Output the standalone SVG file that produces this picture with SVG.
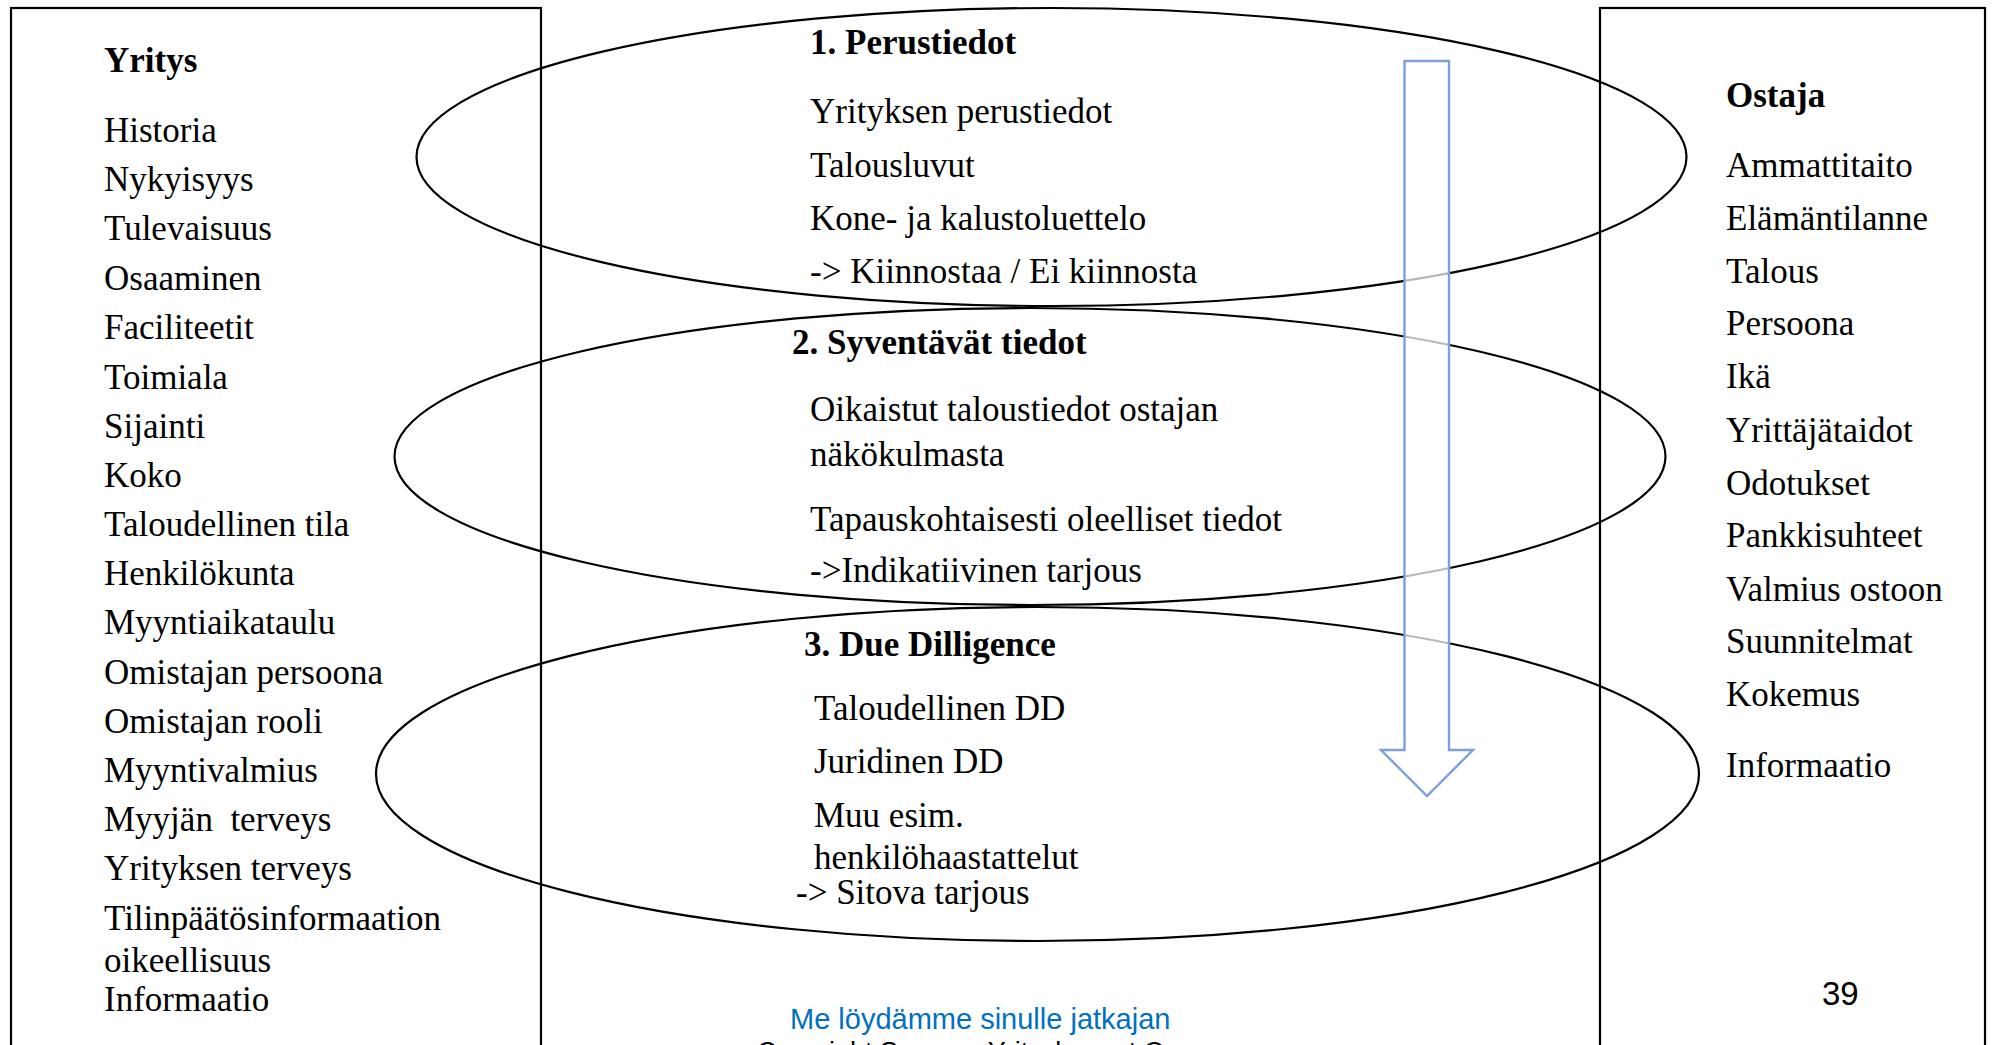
<svg xmlns="http://www.w3.org/2000/svg" width="1993" height="1045" viewBox="0 0 1993 1045">
<style>
  .box{fill:none;stroke:#000;stroke-width:2.2}
  .stage{fill:none;stroke:#000;stroke-width:2.2}
  .t{font-family:"Liberation Serif","Times New Roman",serif;font-size:35px;fill:#000}
  .b{font-weight:bold}
  .s{font-family:"Liberation Sans",Arial,sans-serif;fill:#000}
  .arrow{fill:#fff;fill-opacity:0.72;stroke:#7F9FDA;stroke-width:2.4}
</style>
<rect width="1993" height="1045" fill="#fff"/>

<g id="yritys">
  <rect class="box" x="11" y="8" width="530" height="1060"/>
  <text class="t b" x="104" y="72">Yritys</text>
  <text class="t" x="104" y="142">Historia</text>
  <text class="t" x="104" y="191">Nykyisyys</text>
  <text class="t" x="104" y="240">Tulevaisuus</text>
  <text class="t" x="104" y="290">Osaaminen</text>
  <text class="t" x="104" y="339">Faciliteetit</text>
  <text class="t" x="104" y="389">Toimiala</text>
  <text class="t" x="104" y="438">Sijainti</text>
  <text class="t" x="104" y="487">Koko</text>
  <text class="t" x="104" y="536">Taloudellinen tila</text>
  <text class="t" x="104" y="585">Henkilökunta</text>
  <text class="t" x="104" y="634">Myyntiaikataulu</text>
  <text class="t" x="104" y="684">Omistajan persoona</text>
  <text class="t" x="104" y="733">Omistajan rooli</text>
  <text class="t" x="104" y="782">Myyntivalmius</text>
  <text class="t" x="104" y="831" xml:space="preserve">Myyjän  terveys</text>
  <text class="t" x="104" y="880">Yrityksen terveys</text>
  <text class="t" x="104" y="930">Tilinpäätösinformaation</text>
  <text class="t" x="104" y="972">oikeellisuus</text>
  <text class="t" x="104" y="1011">Informaatio</text>
</g>

<g id="ostaja">
  <rect class="box" x="1600" y="8" width="385" height="1060"/>
  <text class="t b" x="1726" y="107">Ostaja</text>
  <text class="t" x="1726" y="177">Ammattitaito</text>
  <text class="t" x="1726" y="230">Elämäntilanne</text>
  <text class="t" x="1726" y="283">Talous</text>
  <text class="t" x="1726" y="335">Persoona</text>
  <text class="t" x="1726" y="388">Ikä</text>
  <text class="t" x="1726" y="442">Yrittäjätaidot</text>
  <text class="t" x="1726" y="495">Odotukset</text>
  <text class="t" x="1726" y="547">Pankkisuhteet</text>
  <text class="t" x="1726" y="601">Valmius ostoon</text>
  <text class="t" x="1726" y="653">Suunnitelmat</text>
  <text class="t" x="1726" y="706">Kokemus</text>
  <text class="t" x="1726" y="777">Informaatio</text>
</g>

<g id="stage1">
  <ellipse class="stage" cx="1051.5" cy="157" rx="635" ry="149"/>
  <text class="t b" x="810" y="54">1. Perustiedot</text>
  <text class="t" x="810" y="123">Yrityksen perustiedot</text>
  <text class="t" x="810" y="177">Talousluvut</text>
  <text class="t" x="810" y="230">Kone- ja kalustoluettelo</text>
  <text class="t" x="810" y="283">-&gt; Kiinnostaa / Ei kiinnosta</text>
</g>

<g id="stage2">
  <ellipse class="stage" cx="1030" cy="456.5" rx="635.5" ry="148.5"/>
  <text class="t b" x="792" y="354">2. Syventävät tiedot</text>
  <text class="t" x="810" y="421">Oikaistut taloustiedot ostajan</text>
  <text class="t" x="810" y="466">näkökulmasta</text>
  <text class="t" x="810" y="531">Tapauskohtaisesti oleelliset tiedot</text>
  <text class="t" x="810" y="582">-&gt;Indikatiivinen tarjous</text>
</g>

<g id="stage3">
  <ellipse class="stage" cx="1037.5" cy="774" rx="661.5" ry="167"/>
  <text class="t b" x="804" y="656">3. Due Dilligence</text>
  <text class="t" x="814" y="720">Taloudellinen DD</text>
  <text class="t" x="814" y="773">Juridinen DD</text>
  <text class="t" x="814" y="827">Muu esim.</text>
  <text class="t" x="814" y="869">henkilöhaastattelut</text>
  <text class="t" x="796" y="904">-&gt; Sitova tarjous</text>
</g>

<g id="connectors">
  <polygon class="arrow" points="1404.5,61 1449,61 1449,750 1473,750 1427,796 1381,750 1404.5,750"/>
</g>

<g id="footer">
  <text class="s" x="790" y="1029" font-size="29" style="fill:#0070C0">Me löydämme sinulle jatkajan</text>
  <text class="s" x="757" y="1061" font-size="27">Copyright Suomen Yrityskaupat Oy</text>
  <text class="s" x="1822" y="1005" font-size="33">39</text>
</g>
</svg>
